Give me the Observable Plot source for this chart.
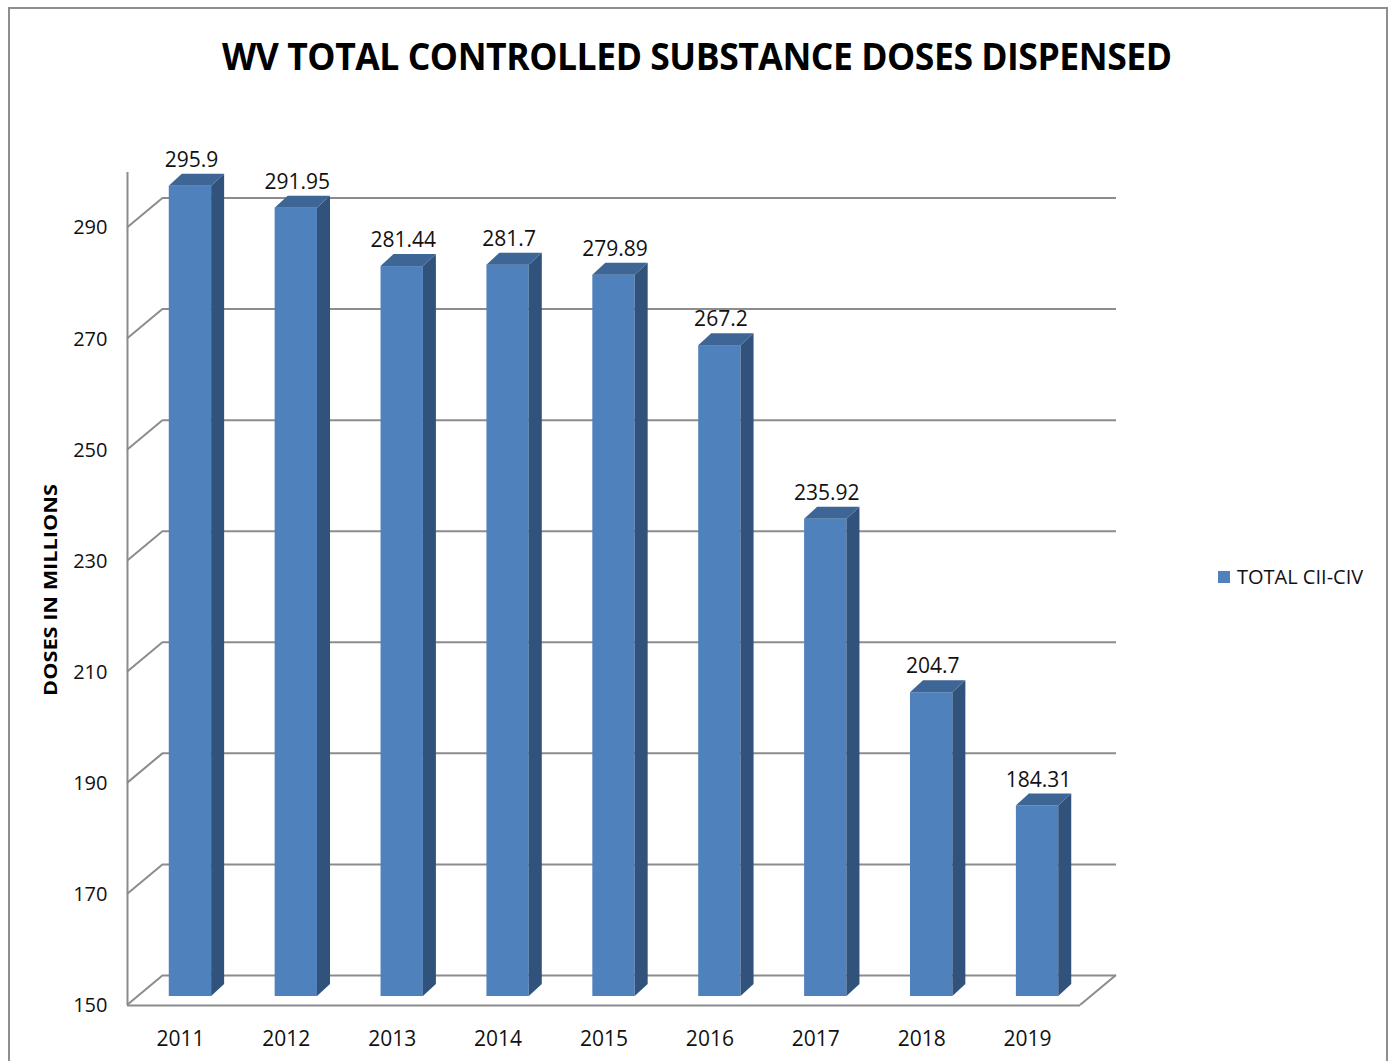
<!DOCTYPE html>
<html>
<head>
<meta charset="utf-8">
<script src="https://cdn.jsdelivr.net/npm/d3@7"></script>
<script src="https://cdn.jsdelivr.net/npm/@observablehq/plot@0.6"></script>
<style>
  html, body { margin: 0; padding: 0; background: #fff; }
  #wrap { position: relative; width: 1393px; height: 1061px; overflow: hidden; }
  #frame { position: absolute; left: 8px; top: 7px; width: 1380px; height: 1100px; border: 2px solid #8e8e8e; box-sizing: border-box; }
  #chart { position: absolute; left: 0; top: 0; }
  #title { position: absolute; left: 0; top: 36px; width: 1393px; text-align: center; line-height: 1; font-size: 38px; }
  #title span { display: inline-block; font: bold 38px "Open Sans", sans-serif; color: #000; white-space: nowrap; transform-origin: 50% 50%; letter-spacing: -0.5px; line-height: 1; }
  #ylab { position: absolute; left: 50px; top: 590px; font: bold 17px "Open Sans", sans-serif; color: #000; white-space: nowrap; line-height: 1; }
  #legend { position: absolute; left: 1218px; top: 566px; height: 22px; display: flex; align-items: center; }
  #legend .sw { width: 12px; height: 12px; margin-right: 7px; }
  #legend .tx { font: 20px "Open Sans", sans-serif; color: #111; white-space: nowrap; line-height: 1; transform-origin: 0 50%; display: inline-block; }
</style>
</head>
<body>
<div id="wrap">
  <div id="frame"></div>
  <div id="chart"></div>
  <div id="title"><span></span></div>
  <div id="ylab"></div>
  <div id="legend"><div class="sw"></div><span class="tx"></span></div>
</div>
<script>
// ---- data ----
const years = ["2011", "2012", "2013", "2014", "2015", "2016", "2017", "2018", "2019"];
const doses = [295.9, 291.95, 281.44, 281.7, 279.89, 267.2, 235.92, 204.7, 184.31];
const yTicks = [150, 170, 190, 210, 230, 250, 270, 290];
const seriesName = "TOTAL CII-CIV";
const chartTitle = "WV TOTAL CONTROLLED SUBSTANCE DOSES DISPENSED";
const yTitle = "DOSES IN MILLIONS";

// ---- style / geometry constants ----
const FRONT = "#4F81BD", SIDE = "#31527A", TOP = "#3D6696", GRID = "#8c8c8c";
const DEPTH_X = 36, DEPTH_Y = -30;      // depth of the floor / back wall (px)
const BAR_DX = 10, BAR_DY = -9;         // bar front-face offset into the depth (px)
const BAR_W = 0.4;                      // bar width as fraction of category
const BAR_DEPTH_X = 13, BAR_DEPTH_Y = -12;
const Y_MIN = 150, Y_MAX = 300;

const data = years.map((year, i) => ({ year, i, value: doses[i] }));

function wallDiagonals(index, scales) {
  const g = d3.create("svg:g").attr("stroke", GRID).attr("stroke-width", 2).attr("fill", "none");
  const x0 = scales.x(0);
  for (const t of yTicks) {
    const y = scales.y(t);
    g.append("line").attr("x1", x0).attr("y1", y).attr("x2", x0 + DEPTH_X).attr("y2", y + DEPTH_Y);
  }
  const xr = scales.x(years.length), yb = scales.y(Y_MIN);
  g.append("line").attr("x1", xr).attr("y1", yb).attr("x2", xr + DEPTH_X).attr("y2", yb + DEPTH_Y);
  return g.node();
}

function barFaces(index, scales) {
  const g = d3.create("svg:g");
  const base = scales.y(Y_MIN) + BAR_DY;
  for (const d of data) {
    const xl = scales.x(d.i + 0.5 - BAR_W / 2) + BAR_DX;
    const xr = scales.x(d.i + 0.5 + BAR_W / 2) + BAR_DX;
    const yt = scales.y(d.value) + BAR_DY;
    g.append("path")
      .attr("d", `M${xr},${yt}L${xr + BAR_DEPTH_X},${yt + BAR_DEPTH_Y}L${xr + BAR_DEPTH_X},${base + BAR_DEPTH_Y}L${xr},${base}Z`)
      .attr("fill", SIDE);
    g.append("path")
      .attr("d", `M${xl},${yt}L${xl + BAR_DEPTH_X},${yt + BAR_DEPTH_Y}L${xr + BAR_DEPTH_X},${yt + BAR_DEPTH_Y}L${xr},${yt}Z`)
      .attr("fill", TOP);
  }
  return g.node();
}

const chart = Plot.plot({
  width: 1393,
  height: 1061,
  marginLeft: 127,
  marginRight: 313,
  marginTop: 172,
  marginBottom: 56,
  style: { fontFamily: "'Open Sans', sans-serif", fontSize: "20px", color: "#111", background: "transparent", overflow: "visible" },
  x: { domain: [0, years.length], axis: null },
  y: { domain: [Y_MIN, Y_MAX] },
  marks: [
    // back wall gridlines
    Plot.ruleY(yTicks, { dx: DEPTH_X, dy: DEPTH_Y, stroke: GRID, strokeWidth: 2, strokeOpacity: 1 }),
    wallDiagonals,
    // front floor edge and front axis line
    Plot.ruleY([Y_MIN], { stroke: GRID, strokeWidth: 2, strokeOpacity: 1 }),
    Plot.ruleX([0], { y1: Y_MIN, y2: Y_MAX, stroke: GRID, strokeWidth: 2, strokeOpacity: 1 }),
    // bars
    Plot.rectY(data, {
      x1: d => d.i + 0.5 - BAR_W / 2,
      x2: d => d.i + 0.5 + BAR_W / 2,
      y1: () => Y_MIN,
      y2: "value",
      dx: BAR_DX, dy: BAR_DY,
      fill: FRONT
    }),
    barFaces,
    // value labels
    Plot.text(data, { x: d => d.i + 0.5, y: "value", text: d => String(d.value), dx: 11, dy: -35, fontSize: 21, fill: "#111" }),
    // year labels
    Plot.text(data, { x: d => d.i + 0.5, y: () => Y_MIN, text: "year", dy: 34, fontSize: 21, fill: "#111" }),
    // y axis tick labels
    Plot.axisY(yTicks, { tickSize: 0, tickPadding: 20, label: null, fontSize: 20 })
  ]
});
document.getElementById("chart").appendChild(chart);

// title
const t = document.querySelector("#title span");
t.textContent = chartTitle;
t.style.transform = `scaleX(${950 / t.offsetWidth})`;

// y title
const yl = document.getElementById("ylab");
yl.textContent = yTitle;
const ys = 212 / yl.offsetWidth;
yl.style.transform = `translate(-50%, -50%) rotate(-90deg) scaleX(${ys})`;

// legend
document.querySelector("#legend .sw").style.background = FRONT;
const lt = document.querySelector("#legend .tx");
lt.textContent = seriesName;
lt.style.transform = `scaleX(${126 / lt.offsetWidth})`;
</script>
</body>
</html>
